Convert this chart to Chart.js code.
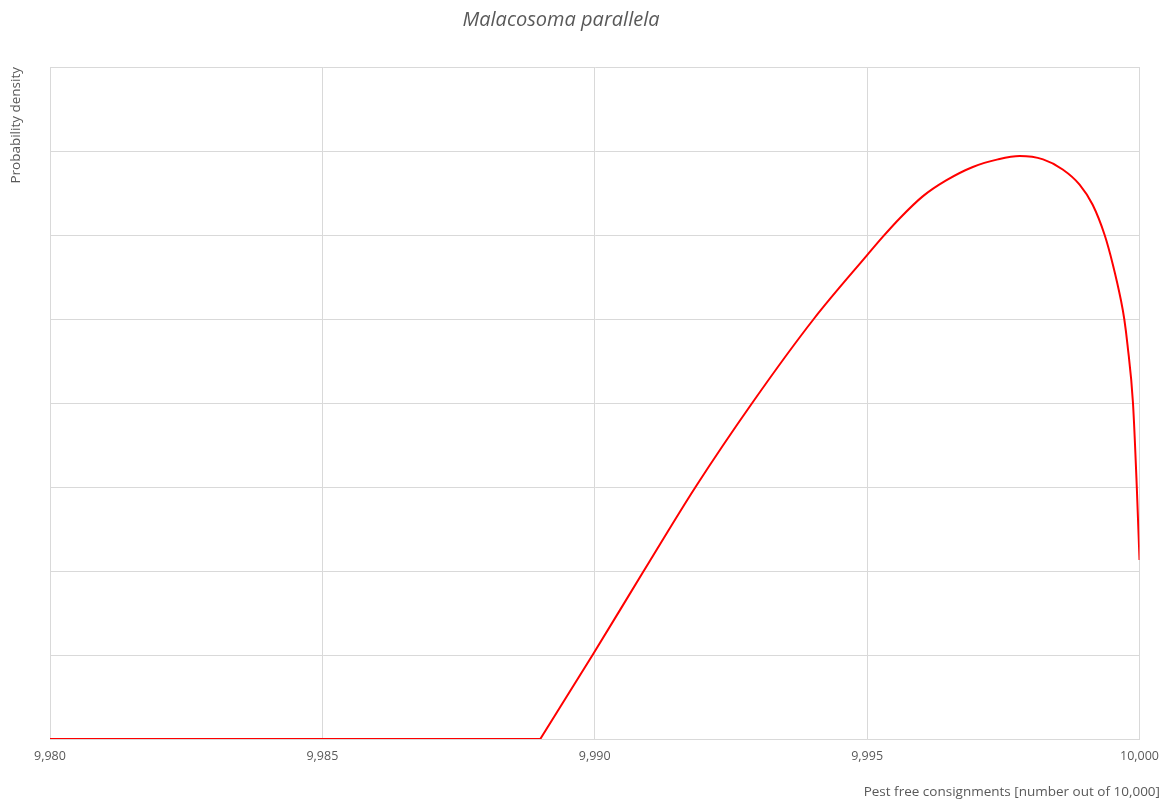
<!DOCTYPE html>
<html>
<head>
<meta charset="utf-8">
<script src="https://cdn.jsdelivr.net/npm/chart.js@4"></script>
<style>
  html, body { margin: 0; padding: 0; background: #fff; }
  #wrap { width: 1169px; height: 806px; }
</style>
</head>
<body>
<div id="wrap"><canvas id="densityChart" width="1169" height="806"></canvas></div>
<script>
// values
const chartTitle = 'Malacosoma parallela';
const xTitle = 'Pest free consignments [number out of 10,000]';
const yTitle = 'Probability density';

const flatX = [9980, 9989.0];
const flatY = [0, 0];

const curveX = [9989.0, 9989.96, 9990.89, 9991.85, 9992.89, 9994.02, 9995.0, 9995.29, 9995.60, 9996.02,
  9996.45, 9996.94, 9997.40, 9997.80, 9998.23, 9998.59, 9998.90, 9999.14, 9999.36, 9999.51,
  9999.66, 9999.72, 9999.78, 9999.88, 9999.95, 10000];
const curveY = [0, 1.0, 1.99, 3.0, 4.0, 5.0, 5.76, 5.98, 6.20, 6.46,
  6.65, 6.81, 6.90, 6.94, 6.90, 6.78, 6.60, 6.36, 6.0, 5.65,
  5.22, 5.0, 4.69, 4.0, 3.0, 2.13];

const xTicks = [9980, 9985, 9990, 9995, 10000];

const FONT = '"Open Sans", "Liberation Sans", sans-serif';
const GREY_TEXT = '#595959';
const GRID = '#d9d9d9';

function pts(xs, ys) { return xs.map((x, i) => ({ x: x, y: ys[i] })); }

// titles drawn by hand so they sit where the reference has them
const titlesPlugin = {
  id: 'titles',
  afterDraw(chart) {
    const ctx = chart.ctx;
    const a = chart.chartArea;
    ctx.save();
    ctx.fillStyle = GREY_TEXT;
    ctx.textBaseline = 'middle';

    ctx.font = 'italic 20px ' + FONT;
    ctx.textAlign = 'center';
    ctx.fillText(chartTitle, 561, 20);

    ctx.font = '13.5px ' + FONT;
    ctx.textAlign = 'right';
    ctx.fillText(xTitle, 1160, 792);

    ctx.translate(16, a.top);
    ctx.rotate(-Math.PI / 2);
    ctx.textAlign = 'right';
    ctx.font = '13.5px ' + FONT;
    ctx.fillText(yTitle, 0, 0);
    ctx.restore();
  }
};

new Chart(document.getElementById('densityChart'), {
  type: 'line',
  data: {
    datasets: [
      { data: pts(flatX, flatY), borderColor: '#ff0000', borderWidth: 2, pointRadius: 0, tension: 0, fill: false },
      { data: pts(curveX, curveY), borderColor: '#ff0000', borderWidth: 2, pointRadius: 0, cubicInterpolationMode: 'monotone', fill: false }
    ]
  },
  options: {
    responsive: false,
    animation: false,
    layout: { padding: { left: 50, right: 29, top: 67, bottom: 0 } },
    plugins: { legend: { display: false }, tooltip: { enabled: false }, title: { display: false } },
    scales: {
      x: {
        type: 'linear', min: 9980, max: 10000,
        afterBuildTicks: (s) => { s.ticks = xTicks.map(v => ({ value: v })); },
        afterFit: (s) => { s.height = 67; },
        grid: { color: GRID, lineWidth: 1, drawTicks: false },
        border: { display: true, color: GRID },
        ticks: {
          padding: 10, color: GREY_TEXT, font: { family: FONT, size: 12.5 },
          maxRotation: 0,
          callback: (v) => Number(v).toLocaleString('en-US')
        }
      },
      y: {
        min: 0, max: 8,
        afterFit: (s) => { s.width = 0; },
        grid: { color: GRID, lineWidth: 1, drawTicks: false },
        border: { display: true, color: GRID },
        ticks: { stepSize: 1, display: false }
      }
    }
  },
  plugins: [titlesPlugin]
});
</script>
</body>
</html>
